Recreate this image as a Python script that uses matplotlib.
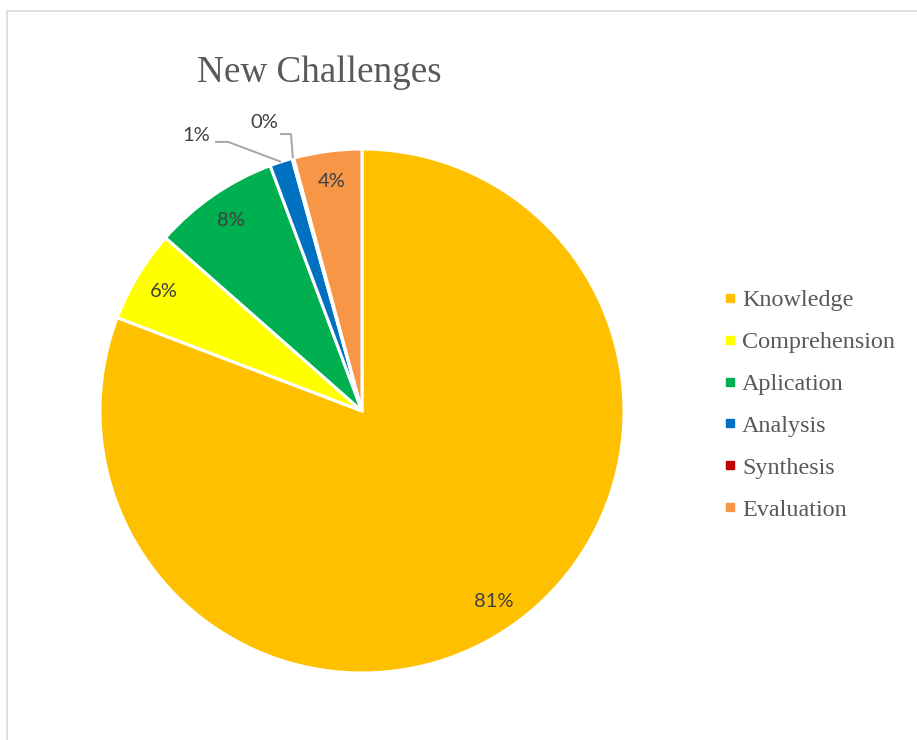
import numpy as np
import matplotlib
matplotlib.use("Agg")
import matplotlib.pyplot as plt
from matplotlib.patches import Rectangle
from matplotlib.lines import Line2D

# Bloom's taxonomy levels in the new challenges
categories = ["Knowledge", "Comprehension", "Aplication", "Analysis", "Synthesis", "Evaluation"]
shares = [80.8, 5.7, 7.8, 1.4, 0.1, 4.2]
colors = ["#FFC000", "#FFFF00", "#00B050", "#0070C0", "#C00000", "#F79646"]
title = "New Challenges"

W, H = 917, 740
fig = plt.figure(figsize=(W / 100, H / 100), dpi=100)

# outer chart-area border
fig.add_artist(Rectangle((7 / W, -0.1), 1.2, 1 - 11 / H + 0.1, transform=fig.transFigure,
                         fill=False, edgecolor="#D9D9D9", lw=1.2))

cx, cy, r = 362, 411, 262
ax = fig.add_axes([(cx - r) / W, (H - cy - r) / H, 2 * r / W, 2 * r / H])
wedges, _ = ax.pie(shares, colors=colors, startangle=90, counterclock=False,
                   wedgeprops=dict(edgecolor="white", linewidth=2.2))
ax.set_xlim(-1, 1)
ax.set_ylim(-1, 1)
ax.set_aspect("auto")
ax.axis("off")

total = sum(shares)
label_font = dict(family="Lato", fontsize=14.5, color="#404040")

def mid_dir(w):
    a = np.deg2rad((w.theta1 + w.theta2) / 2)
    return np.cos(a), np.sin(a)

for i, (w, v) in enumerate(zip(wedges, shares)):
    txt = f"{v / total * 100:.0f}%"
    dx, dy = mid_dir(w)
    if categories[i] == "Analysis":
        ax.plot([-0.561, -0.511, dx], [1.027, 1.027, dy], color="#A6A6A6", lw=1.4,
                clip_on=False, solid_capstyle="butt")
        ax.text(-0.634, 1.050, txt, ha="center", va="center", **label_font)
    elif categories[i] == "Synthesis":
        ax.plot([-0.313, -0.271, dx], [1.057, 1.057, dy], color="#A6A6A6", lw=1.4,
                clip_on=False, solid_capstyle="butt")
        ax.text(-0.374, 1.103, txt, ha="center", va="center", **label_font)
    else:
        d = 0.885
        ax.text(dx * d, dy * d, txt, ha="center", va="center", **label_font)

fig.text(319 / W, 1 - 73 / H, title, ha="center", va="center",
         family="Liberation Serif", fontsize=26.7, color="#595959")

handles = [Line2D([], [], marker="s", linestyle="none", markersize=6,
                  markerfacecolor=c, markeredgecolor=c) for c in colors]
fig.legend(handles, categories, loc="center left", bbox_to_anchor=(712 / W, 1 - 405 / H),
           frameon=False, prop=dict(family="Liberation Serif", size=17.4),
           labelcolor="#595959", handlelength=0.5, handletextpad=0.25,
           labelspacing=0.83, borderpad=0)

fig.savefig("out.png", dpi=100, facecolor="white")
